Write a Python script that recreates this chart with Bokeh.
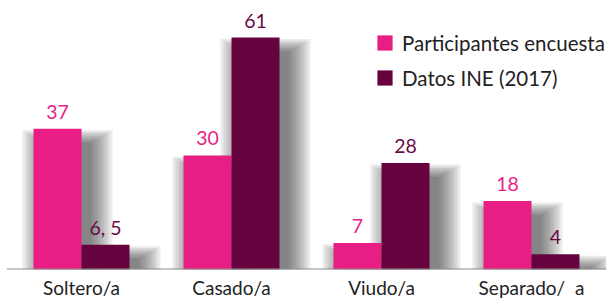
from bokeh.plotting import figure
from bokeh.models import ColumnDataSource, FactorRange, Range1d, Span, Legend, LegendItem
from bokeh.transform import dodge
from bokeh.core.properties import value
from bokeh.embed import file_html
from bokeh.resources import INLINE

categories = ["Soltero/a", "Casado/a", "Viudo/a", "Separado/\u00a0\u00a0a"]
participantes = [37, 30, 7, 18]
ine = [6.5, 61, 28, 4]
participantes_labels = ["37", "30", "7", "18"]
ine_labels = ["6, 5", "61", "28", "4"]
series_names = ["Participantes encuesta", "Datos INE (2017)"]

PINK = "#E91E84"
PLUM = "#66033F"
FONT = "Lato"

W, H = 610, 301
PX_X = 150.0   # px per category
PX_Y = 3.83    # px per unit
FRAME_H = 271

p = figure(width=W, height=H,
           x_range=FactorRange(factors=categories, range_padding=0),
           y_range=Range1d(0, FRAME_H / PX_Y),
           output_backend="svg", toolbar_location=None,
           y_axis_location=None,
           min_border_left=6, min_border_right=4, min_border_top=0,
           min_border_bottom=H - FRAME_H)
p.grid.visible = False
p.outline_line_color = None
p.background_fill_color = "white"
p.border_fill_color = "white"

# soft drop shadows
for values_, off in [(participantes, -0.16), (ine, 0.16)]:
    for s in [0, 3, 6, 9, 12, 15, 18, 21]:
        src = ColumnDataSource(dict(cat=categories,
                                    top=[v - (14 - s * 0.6) / PX_Y for v in values_]))
        p.vbar(x=dodge("cat", off + 10 / PX_X, range=p.x_range), top="top", bottom=0,
               width=0.32 + 2 * s / PX_X, source=src,
               fill_color="#1a1a1a", fill_alpha=0.085, line_color=None)

src_p = ColumnDataSource(dict(cat=categories, val=participantes, lab=participantes_labels))
src_i = ColumnDataSource(dict(cat=categories, val=ine, lab=ine_labels))

r_p = p.vbar(x=dodge("cat", -0.16, range=p.x_range), top="val", width=0.32, source=src_p,
             fill_color=PINK, line_color=None)
r_i = p.vbar(x=dodge("cat", 0.16, range=p.x_range), top="val", width=0.32, source=src_i,
             fill_color=PLUM, line_color=None)

p.text(x=dodge("cat", -0.16, range=p.x_range), y="val", text="lab", source=src_p,
       text_align="center", text_baseline="alphabetic", y_offset=-17,
       text_font=value(FONT), text_font_size="19.5px", text_color=PINK)
p.text(x=dodge("cat", 0.16, range=p.x_range), y="val", text="lab", source=src_i,
       text_align="center", text_baseline="alphabetic", y_offset=-17,
       text_font=value(FONT), text_font_size="19.5px", text_color="#6A0A45")

p.add_layout(Span(location=0, dimension="width", line_color="#8c8c8c", line_width=2))

p.xaxis.axis_line_color = None
p.xaxis.major_tick_line_color = None
p.xaxis.minor_tick_line_color = None
p.xaxis.major_tick_out = 0
p.xaxis.major_tick_in = 0
p.xaxis.major_label_text_font = FONT
p.xaxis.major_label_text_font_size = "19px"
p.xaxis.major_label_text_color = "#222222"
p.xaxis.major_label_standoff = 6

legend = Legend(items=[LegendItem(label=series_names[0], renderers=[r_p]),
                       LegendItem(label=series_names[1], renderers=[r_i])],
                location=(369, FRAME_H - 38 - 54), orientation="vertical",
                padding=0, margin=0, spacing=10,
                glyph_width=19, glyph_height=19, label_height=25, label_standoff=8,
                label_text_font=FONT, label_text_font_size="20.5px", label_text_color="#222222",
                border_line_color=None, background_fill_alpha=0)
p.add_layout(legend, "center")

open("out.html", "w").write(file_html(p, INLINE))
